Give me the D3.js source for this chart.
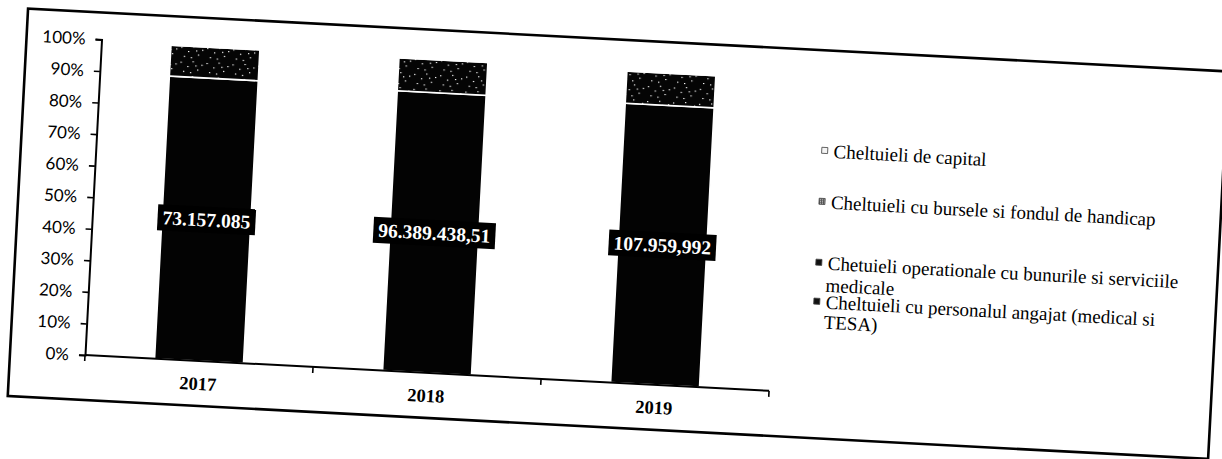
<!DOCTYPE html>
<html>
<head>
<meta charset="utf-8">
<script src="https://cdn.jsdelivr.net/npm/d3@7"></script>
<style>
  html, body { margin: 0; padding: 0; background: #fff; }
  svg { display: block; }
</style>
</head>
<body>
<svg id="chart" width="1222" height="459"></svg>
<script>
// Structura cheltuielilor pe ani (valori absolute, lei)
const years = ["2017", "2018", "2019"];
const personal = [73157085, 96389438.51, 107959992];
const operational = [8000000, 11300000, 12400000];
const bursary = [250000, 430000, 600000];
const capital = [300000, 540000, 1000000];
const personalLabels = ["73.157.085", "96.389.438,51", "107.959,992"];
const yTickValues = [0, 0.1, 0.2, 0.3, 0.4, 0.5, 0.6, 0.7, 0.8, 0.9, 1];
const seriesKeys = ["personal", "operational", "bursary", "capital"];
const legendEntries = [
  { key: "capital", lines: ["Cheltuieli de capital"] },
  { key: "bursary", lines: ["Cheltuieli cu bursele si fondul de handicap"] },
  { key: "operational", lines: ["Chetuieli operationale cu bunurile si serviciile", "medicale"] },
  { key: "personal", lines: ["Cheltuieli cu personalul angajat (medical si", "TESA)"] }
];

const rows = years.map((y, i) => ({
  year: y,
  personal: personal[i],
  operational: operational[i],
  bursary: bursary[i],
  capital: capital[i]
}));

const svg = d3.select("#chart");
const defs = svg.append("defs");

// speckled dark fill for the operational segment
const pat = defs.append("pattern")
  .attr("id", "speckle").attr("patternUnits", "userSpaceOnUse")
  .attr("width", 26).attr("height", 15);
pat.append("rect").attr("width", 26).attr("height", 15).attr("fill", "#050505");
[[2,2],[9,6],[14,1],[19,9],[5,11],[23,4],[12,12],[17,5]].forEach(([x, y]) => {
  pat.append("rect").attr("x", x).attr("y", y).attr("width", 1.3).attr("height", 1.1).attr("fill", "#fff");
});
// hatched swatch for the bursary series
const hatch = defs.append("pattern")
  .attr("id", "hatch").attr("patternUnits", "userSpaceOnUse")
  .attr("width", 2).attr("height", 2);
hatch.append("rect").attr("width", 2).attr("height", 2).attr("fill", "#555");
hatch.append("rect").attr("width", 1).attr("height", 1).attr("fill", "#ddd");

const fills = {
  personal: "#030303",
  operational: "url(#speckle)",
  bursary: "#111",
  capital: "#ffffff"
};
const swatch = {
  personal: "#111",
  operational: "#111",
  bursary: "url(#hatch)",
  capital: "#f4f4f4"
};

// whole sheet sits slightly tilted; origin at the 0% point of the plot
const g = svg.append("g").attr("transform", "translate(85,355) rotate(3)");

// outer frame
g.append("rect")
  .attr("x", -75).attr("y", -343).attr("width", 1202).attr("height", 388)
  .attr("fill", "none").attr("stroke", "#000").attr("stroke-width", 2.6);

const plotW = 685, plotH = 316;
const x = d3.scaleBand().domain(years).range([0, plotW]).paddingInner(0.61).paddingOuter(0.305);
const y = d3.scaleLinear().domain([0, 1]).range([0, -plotH]);

const stack = d3.stack().keys(seriesKeys).offset(d3.stackOffsetExpand);
const layers = stack(rows);

// stacked bars
const layerG = g.selectAll("g.layer").data(layers).join("g")
  .attr("class", "layer")
  .attr("fill", d => fills[d.key]);
layerG.selectAll("rect").data(d => d.map(v => ({ v, key: d.key }))).join("rect")
  .attr("x", d => x(d.v.data.year))
  .attr("width", x.bandwidth())
  .attr("y", d => y(d.v[1]))
  .attr("height", d => y(d.v[0]) - y(d.v[1]))
  .attr("stroke", "#fff")
  .attr("stroke-width", 1.6);

// y axis
const yAxis = d3.axisLeft(y).tickValues(yTickValues).tickFormat(d3.format(".0%")).tickSize(6).tickPadding(10);
const yg = g.append("g").call(yAxis);
yg.select(".domain").attr("stroke", "#000").attr("stroke-width", 2);
yg.selectAll(".tick line").attr("stroke", "#000").attr("stroke-width", 1.6);
yg.selectAll(".tick text")
  .attr("font-family", "Lato, 'Open Sans', sans-serif")
  .attr("font-size", 17).attr("fill", "#000");

// x axis with ticks between categories
const xAxisG = g.append("g");
xAxisG.append("line").attr("x1", 0).attr("x2", plotW).attr("y1", 0).attr("y2", 0)
  .attr("stroke", "#000").attr("stroke-width", 2);
const boundaries = d3.range(years.length + 1).map(i => i * x.step());
xAxisG.selectAll("line.tk").data(boundaries).join("line").attr("class", "tk")
  .attr("x1", d => d).attr("x2", d => d).attr("y1", 0).attr("y2", 6)
  .attr("stroke", "#000").attr("stroke-width", 1.6);
xAxisG.selectAll("text").data(years).join("text")
  .attr("x", d => x(d) + x.bandwidth() / 2)
  .attr("y", 29)
  .attr("text-anchor", "middle")
  .attr("font-family", "'Liberation Serif', 'DejaVu Serif', serif")
  .attr("font-weight", "bold")
  .attr("font-size", 18.5)
  .attr("fill", "#000")
  .text(d => d);

// value labels on the personnel segment
const personalLayer = layers.find(l => l.key === "personal");
const lbl = g.selectAll("g.vlabel").data(personalLayer).join("g").attr("class", "vlabel")
  .attr("transform", d => `translate(${x(d.data.year) + x.bandwidth() / 2},${y((d[0] + d[1]) / 2)})`);
lbl.append("rect").attr("fill", "#000");
lbl.append("text")
  .attr("text-anchor", "middle")
  .attr("dy", "0.35em")
  .attr("font-family", "'Liberation Serif', 'DejaVu Serif', serif")
  .attr("font-weight", "bold")
  .attr("font-size", 19.5)
  .attr("fill", "#fff")
  .text((d, i) => personalLabels[i]);
lbl.each(function () {
  const t = d3.select(this).select("text").node().getBBox();
  d3.select(this).select("rect")
    .attr("x", t.x - 5).attr("y", -13).attr("width", t.width + 10).attr("height", 26);
});

// legend
const legendX = 737;
const legendBaselines = [-236, -185, -124, -85];
const lineGaps = [0, 0, 22, 20];
const lg = g.append("g");
legendEntries.forEach((e, i) => {
  const by = legendBaselines[i];
  lg.append("rect")
    .attr("x", legendX - 12).attr("y", by - 10).attr("width", 6).attr("height", 6)
    .attr("fill", swatch[e.key]).attr("stroke", "#444").attr("stroke-width", 0.8);
  const t = lg.append("text")
    .attr("font-family", "'Liberation Serif', 'DejaVu Serif', serif")
    .attr("font-size", 19).attr("fill", "#000");
  e.lines.forEach((ln, j) => {
    t.append("tspan").attr("x", j === 0 ? legendX : legendX - 1).attr("y", by + j * lineGaps[i]).text(ln);
  });
});
</script>
</body>
</html>
